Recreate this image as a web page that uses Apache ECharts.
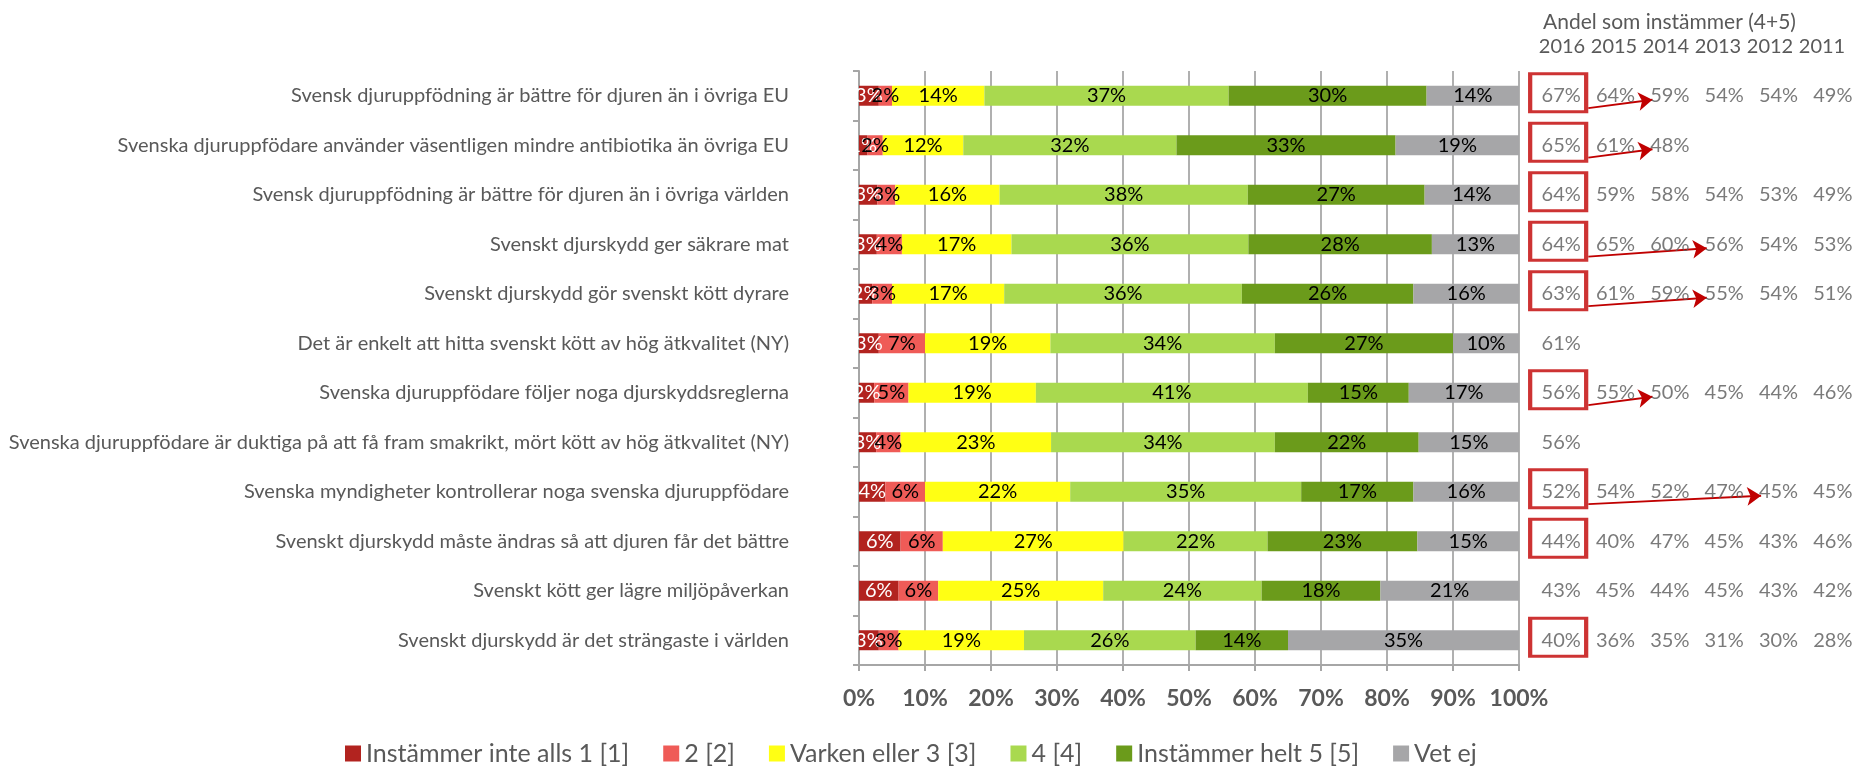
<!DOCTYPE html>
<html>
<head>
<meta charset="utf-8">
<script src="https://cdn.jsdelivr.net/npm/echarts@6/dist/echarts.min.js"></script>
<style>
html, body { margin: 0; padding: 0; background: #fff; }
#main { width: 1860px; height: 766px; }
</style>
</head>
<body>
<div id="main"></div>
<script>
// påståenden, uppifrån och ned
var categories = [
  "Svensk djuruppfödning är bättre för djuren än i övriga EU",
  "Svenska djuruppfödare använder väsentligen mindre antibiotika än övriga EU",
  "Svensk djuruppfödning är bättre för djuren än i övriga världen",
  "Svenskt djurskydd ger säkrare mat",
  "Svenskt djurskydd gör svenskt kött dyrare",
  "Det är enkelt att hitta svenskt kött av hög ätkvalitet (NY)",
  "Svenska djuruppfödare följer noga djurskyddsreglerna",
  "Svenska djuruppfödare är duktiga på att få fram smakrikt, mört kött av hög ätkvalitet (NY)",
  "Svenska myndigheter kontrollerar noga svenska djuruppfödare",
  "Svenskt djurskydd måste ändras så att djuren får det bättre",
  "Svenskt kött ger lägre miljöpåverkan",
  "Svenskt djurskydd är det strängaste i världen"
];
var seriesNames = ["Instämmer inte alls 1 [1]", "2 [2]", "Varken eller 3 [3]", "4 [4]", "Instämmer helt 5 [5]", "Vet ej"];
// andelar i procent (avlästa, etiketterna visar avrundat värde)
var inteAlls = [3, 1.3, 2.8, 2.7, 2, 3, 2.3, 2.6, 4, 6.3, 6, 3];
var tva = [2, 2.3, 2.7, 3.8, 3, 7, 5.2, 3.7, 6, 6.4, 6, 3];
var varken = [14, 12.2, 15.8, 16.6, 17, 19, 19.3, 22.8, 22, 27.4, 25, 19];
var fyra = [37, 32.3, 37.6, 35.9, 36, 34, 41.2, 33.9, 35, 21.8, 24, 26];
var helt = [30, 33.2, 26.8, 27.8, 26, 27, 15.3, 21.8, 17, 22.7, 18, 14];
var vetEj = [14, 18.7, 14.3, 13.2, 16, 10, 16.7, 15.2, 16, 15.4, 21, 35];

// andel som instämmer (4+5) per år
var years = ["2016", "2015", "2014", "2013", "2012", "2011"];
var andel = [
  [67, 64, 59, 54, 54, 49],
  [65, 61, 48],
  [64, 59, 58, 54, 53, 49],
  [64, 65, 60, 56, 54, 53],
  [63, 61, 59, 55, 54, 51],
  [61],
  [56, 55, 50, 45, 44, 46],
  [56],
  [52, 54, 52, 47, 45, 45],
  [44, 40, 47, 45, 43, 46],
  [43, 45, 44, 45, 43, 42],
  [40, 36, 35, 31, 30, 28]
];
var boxedRows = [0, 1, 2, 3, 4, 6, 8, 9, 11];
// [rad, årskolumn som pilen pekar på]
var arrows = [[0, 2], [1, 2], [3, 3], [4, 3], [6, 2], [8, 4]];

var FONT = "Lato";
var colors = ["#B2231F", "#EF5B57", "#FFFF14", "#A9D94F", "#6B9B1B", "#A6A6A8"];
var values = [inteAlls, tva, varken, fyra, helt, vetEj];

var barSeries = [];
for (var i = 0; i < seriesNames.length; i++) {
  barSeries.push({
    name: seriesNames[i],
    type: "bar",
    stack: "total",
    barWidth: 20,
    xAxisIndex: 0,
    yAxisIndex: 0,
    itemStyle: { color: colors[i] },
    label: {
      show: true,
      position: "inside",
      formatter: function (p) { return Math.round(p.value) + "%"; },
      fontFamily: FONT,
      fontSize: 20,
      color: i === 0 ? "#fff" : "#000"
    },
    data: values[i]
  });
}

var tableData = [];
for (var r = 0; r < andel.length; r++) {
  for (var c = 0; c < andel[r].length; c++) {
    tableData.push([c, r, andel[r][c]]);
  }
}
var boxData = [];
for (var b = 0; b < boxedRows.length; b++) {
  boxData.push([0, boxedRows[b]]);
}
var arrowData = [];
for (var a = 0; a < arrows.length; a++) {
  var row = arrows[a][0], col = arrows[a][1];
  arrowData.push({ coords: [[0.5, row + 0.25], [col - 0.32, row + 0.08]] });
}

var chart = echarts.init(document.getElementById("main"));
var option = {
  animation: false,
  textStyle: { fontFamily: FONT },
  title: {
    text: "Andel som instämmer (4+5)",
    left: 1538,
    top: 7,
    textStyle: { fontFamily: FONT, fontSize: 21, fontWeight: "normal", color: "#595959" }
  },
  legend: {
    data: seriesNames,
    left: 340,
    top: 736,
    itemWidth: 16,
    itemHeight: 16,
    itemGap: 34,
    icon: "rect",
    textStyle: { fontFamily: FONT, fontSize: 25, color: "#595959" }
  },
  grid: [
    { left: 859, width: 660, top: 71, height: 594 },
    { left: 1534, width: 334, top: 71, height: 594 },
    { left: 1534, width: 334, top: 71, height: 594 },
    { left: 1536, width: 312, top: 71, height: 594 }
  ],
  xAxis: [
    {
      type: "value",
      gridIndex: 0,
      min: 0,
      max: 100,
      interval: 10,
      axisLine: { show: true, lineStyle: { color: "#A6A6A6", width: 2 } },
      axisTick: { show: true, length: 6, lineStyle: { color: "#A6A6A6", width: 2 } },
      splitLine: { show: true, lineStyle: { color: "#B0B0B0", width: 2 } },
      axisLabel: {
        formatter: "{value}%",
        margin: 22,
        fontFamily: FONT,
        fontSize: 23,
        fontWeight: "bold",
        color: "#595959"
      }
    },
    { type: "category", gridIndex: 1, data: years, show: false },
    { type: "value", gridIndex: 2, min: -0.5, max: 5.5, show: false },
    {
      type: "category",
      gridIndex: 3,
      position: "top",
      data: years,
      axisLine: { show: false },
      axisTick: { show: false },
      splitLine: { show: false },
      axisLabel: { interval: 0, margin: 14, fontFamily: FONT, fontSize: 20, color: "#595959" }
    }
  ],
  yAxis: [
    {
      type: "category",
      gridIndex: 0,
      inverse: true,
      data: categories,
      axisLine: { show: true, lineStyle: { color: "#A6A6A6", width: 2 } },
      axisTick: { show: true, length: 6, lineStyle: { color: "#A6A6A6", width: 2 } },
      axisLabel: { margin: 70, fontFamily: FONT, fontSize: 20, color: "#595959" }
    },
    { type: "category", gridIndex: 1, inverse: true, data: categories, show: false },
    { type: "value", gridIndex: 2, min: -0.5, max: 11.5, inverse: true, show: false },
    { type: "category", gridIndex: 3, inverse: true, data: categories, show: false }
  ],
  series: barSeries.concat([
    {
      type: "scatter",
      xAxisIndex: 1,
      yAxisIndex: 1,
      symbolSize: 0,
      silent: true,
      label: {
        show: true,
        position: "inside",
        formatter: function (p) { return p.value[2] + "%"; },
        fontFamily: FONT,
        fontSize: 20,
        color: "#595959"
      },
      data: tableData
    },
    {
      type: "scatter",
      xAxisIndex: 1,
      yAxisIndex: 1,
      symbol: "rect",
      symbolSize: [56, 38],
      symbolOffset: [-3, -3],
      silent: true,
      itemStyle: { color: "rgba(0,0,0,0)", borderColor: "#C00000", borderWidth: 3.5 },
      data: boxData
    },
    {
      type: "lines",
      coordinateSystem: "cartesian2d",
      xAxisIndex: 2,
      yAxisIndex: 2,
      silent: true,
      symbol: ["none", "arrow"],
      symbolSize: 14,
      lineStyle: { color: "#C00000", width: 2, opacity: 1 },
      data: arrowData
    },
    {
      type: "scatter",
      xAxisIndex: 3,
      yAxisIndex: 3,
      symbolSize: 0,
      silent: true,
      data: []
    }
  ])
};
chart.setOption(option);
</script>
</body>
</html>
